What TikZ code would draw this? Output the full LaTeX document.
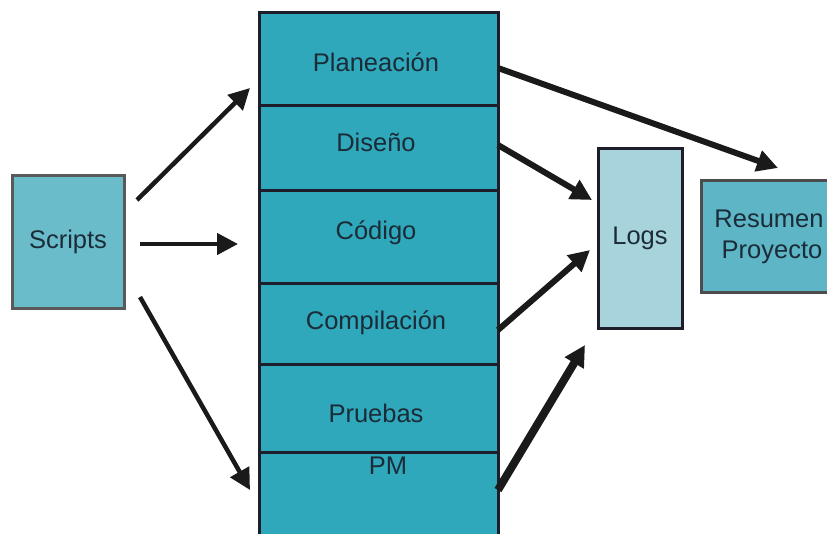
\documentclass[tikz,border=0pt]{standalone}
\usepackage{fontspec}
\setmainfont{Liberation Sans}
\usetikzlibrary{arrows.meta}
\definecolor{stackfill}{HTML}{2FA8BB}
\definecolor{scriptfill}{HTML}{6BBCCB}
\definecolor{logfill}{HTML}{A7D4DC}
\definecolor{resfill}{HTML}{5DB5C5}
\definecolor{edge}{HTML}{1E1E2A}
\definecolor{txt}{HTML}{1B2C38}
\definecolor{arr}{HTML}{1A1A1A}
\begin{document}
\begin{tikzpicture}[x=1pt,y=-1pt,
  every node/.style={inner sep=0pt, outer sep=0pt, text=txt, font=\fontsize{25.5}{31}\selectfont},
  phase/.style={draw=edge, line width=3pt, fill=stackfill, minimum width=239pt},
  sidebox/.style={draw=edge, line width=3pt},
  link/.style={draw=arr, line width=4.5pt, -{Triangle[length=21pt,width=21pt]}},
]
\useasboundingbox (0,0) rectangle (827,533);
\clip (0,0) rectangle (827,533);
\fill[white] (0,0) rectangle (827,533);

% stack
\node[phase, minimum height=93pt] (plan) at (378.5,58.5) {};
\node at (376,62) {Planeación};
\node[phase, minimum height=85pt] (dis) at (378.5,147.5) {};
\node at (376,142) {Diseño};
\node[phase, minimum height=93pt] (cod) at (378.5,236.5) {};
\node at (376,233) {Código};
\node[phase, minimum height=81pt] (comp) at (378.5,323.5) {};
\node at (376,323) {Compilación};
\node[phase, minimum height=88pt] (prue) at (378.5,408) {};
\node at (376,413) {Pruebas};
\node[phase, minimum height=93pt] (pm) at (378.5,498.5) {};
\node at (388,466) {PM};

% side boxes
\node[sidebox, draw=gray!70!black, fill=scriptfill, minimum width=112pt, minimum height=133pt] (scripts) at (68,241.5) {};
\node at (68,242) {Scripts};
\node[sidebox, fill=logfill, minimum width=84pt, minimum height=180pt] (logs) at (640,238) {};
\node at (640,238) {Logs};
\node[sidebox, draw=gray!60!black, fill=resfill, minimum width=138pt, minimum height=112pt] (res) at (770,236) {};
\node[align=center] at (769,237) {Resumen\\\hspace*{6pt}Proyecto};

% connectors
\draw[link, line width=4.5pt] ([shift={(13,-41.5)}]scripts.east) -- ([shift={(-9,29.5)}]plan.west);
\draw[link, line width=4.5pt] ([shift={(16,2.5)}]scripts.east) -- ([shift={(-21,7.5)}]cod.west);
\draw[link, line width=4.5pt] ([shift={(16,55.5)}]scripts.east) -- ([shift={(-9,-8.5)}]pm.west);
\draw[link, line width=6pt] ([shift={(0,9.5)}]plan.east) -- ([shift={(8,-12)}]res.north);
\draw[link, line width=6pt] ([shift={(0,-2.5)}]dis.east) -- ([shift={(-6,-38)}]logs.west);
\draw[link, line width=6pt] ([shift={(0,6.5)}]comp.east) -- ([shift={(-8,12)}]logs.west);
\draw[link, line width=8pt] ([shift={(0,-8.5)}]pm.east) -- ([shift={(-55,17)}]logs.south);
\end{tikzpicture}
\end{document}
